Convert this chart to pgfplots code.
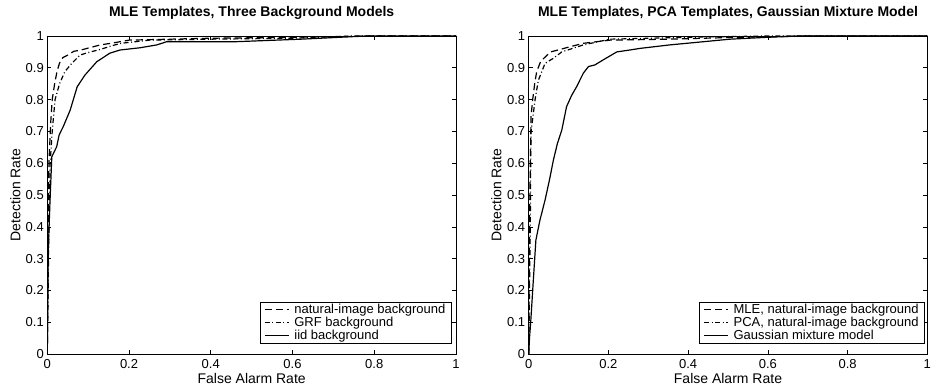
\documentclass[border=0pt]{standalone}
\usepackage{fontspec}
\setmainfont{Liberation Sans}
\usepackage{pgfplots}
\pgfplotsset{compat=1.18}

\pgfplotsset{
  roc/.style={
    scale only axis, height=318pt,
    xmin=0,xmax=1,ymin=0,ymax=1,
    xtick={0,0.2,0.4,0.6,0.8,1},
    ytick={0,0.1,0.2,0.3,0.4,0.5,0.6,0.7,0.8,0.9,1},
    tick align=inside, xtick pos=both, ytick pos=both,
    major tick length=4pt,
    tick style={black, line width=0.6pt},
    axis line style={line width=0.7pt},
    /pgf/number format/assume math mode=true,
    ticklabel style={font=\fontsize{13}{15}\selectfont},
    xticklabel style={yshift=-2pt},
    label style={font=\fontsize{14}{16}\selectfont},
    title style={font=\fontsize{14}{16}\selectfont\bfseries, at={(0.5,1)}, anchor=base, yshift=13pt},
    xlabel style={at={(0.5,0)}, anchor=base, yshift=-29pt},
    legend cell align=left,
    legend image code/.code={\draw[##1] (0pt,0pt) -- (24pt,0pt);},
    legend style={anchor=south east, draw=black, line width=0.6pt,
      inner xsep=4pt, inner ysep=1.2pt,
      font=\fontsize{13}{14}\selectfont,
      nodes={inner ysep=1pt},
      /tikz/every odd column/.append style={column sep=3pt},
      row sep=0pt},
    nat/.style={black, line width=1.2pt, dash pattern=on 7pt off 4pt},
    grf/.style={black, line width=1.2pt, dash pattern=on 5pt off 2.5pt on 1pt off 2.5pt},
    sol/.style={black, line width=1.2pt},
  }
}

\begin{document}
\begin{tikzpicture}
\useasboundingbox (0,0) rectangle (941pt,391pt);
\begin{axis}[roc, at={(47.3pt,37pt)}, anchor=south west, width=408.7pt,
  title={MLE Templates, Three Background Models},
  xlabel={False Alarm Rate}, ylabel={Detection Rate},
  ylabel style={at={(axis description cs:-0.066,0.5)}, anchor=base},
  legend style={at={(0.9895,0.0336)}}]
\addplot[nat] coordinates {(0,0) (0.001,0.2) (0.002,0.4) (0.004,0.6) (0.008,0.72) (0.012,0.8) (0.018,0.85) (0.024,0.89) (0.03,0.915) (0.038,0.932) (0.05,0.94) (0.065,0.952) (0.08,0.955) (0.1,0.962) (0.13,0.972) (0.16,0.978) (0.2,0.987) (0.3,0.99) (0.4,0.993) (0.55,0.995) (0.7,0.998) (0.8,1) (1,1)};
\addlegendentry{natural-image background}
\addplot[grf] coordinates {(0,0) (0.002,0.2) (0.004,0.4) (0.007,0.6) (0.012,0.7) (0.019,0.8) (0.03,0.85) (0.043,0.888) (0.06,0.914) (0.08,0.94) (0.1,0.948) (0.13,0.958) (0.16,0.97) (0.18,0.977) (0.25,0.987) (0.4,0.99) (0.6,0.993) (0.75,1) (1,1)};
\addlegendentry{GRF background}
\addplot[sol] coordinates {(0,0) (0.0025,0.33) (0.0066,0.48) (0.011,0.62) (0.023,0.652) (0.029,0.689) (0.039,0.715) (0.056,0.767) (0.073,0.84) (0.092,0.877) (0.121,0.919) (0.153,0.946) (0.178,0.956) (0.227,0.963) (0.268,0.972) (0.292,0.982) (0.46,0.982) (0.62,0.99) (0.78,1) (1,1)};
\addlegendentry{iid background}
\end{axis}
\begin{axis}[roc, at={(528.7pt,37pt)}, anchor=south west, width=398.6pt,
  title={MLE Templates, PCA Templates, Gaussian Mixture Model},
  xlabel={False Alarm Rate}, ylabel={Detection Rate},
  ylabel style={at={(axis description cs:-0.0685,0.5)}, anchor=base},
  legend style={at={(0.994,0.0336)}}]
\addplot[nat] coordinates {(0,0) (0.001,0.2) (0.002,0.4) (0.004,0.6) (0.006,0.75) (0.01,0.8) (0.015,0.85) (0.02,0.888) (0.03,0.92) (0.038,0.93) (0.055,0.95) (0.074,0.956) (0.1,0.965) (0.137,0.977) (0.204,0.987) (0.35,0.99) (0.5,0.995) (0.7,1) (1,1)};
\addlegendentry{MLE, natural-image background}
\addplot[grf] coordinates {(0,0) (0.002,0.2) (0.004,0.4) (0.005,0.6) (0.006,0.7) (0.016,0.8) (0.024,0.86) (0.041,0.914) (0.062,0.93) (0.083,0.95) (0.137,0.972) (0.204,0.99) (0.44,0.997) (0.6,1) (1,1)};
\addlegendentry{PCA, natural-image background}
\addplot[sol] coordinates {(0,0) (0.002,0.05) (0.005,0.1) (0.01,0.2) (0.018,0.358) (0.028,0.42) (0.041,0.484) (0.052,0.547) (0.062,0.61) (0.072,0.662) (0.083,0.704) (0.095,0.778) (0.108,0.814) (0.12,0.84) (0.137,0.883) (0.15,0.904) (0.166,0.909) (0.187,0.925) (0.221,0.95) (0.254,0.956) (0.279,0.961) (0.354,0.972) (0.438,0.982) (0.505,0.99) (0.6,0.996) (0.68,1) (1,1)};
\addlegendentry{Gaussian mixture model}
\end{axis}
\end{tikzpicture}
\end{document}
